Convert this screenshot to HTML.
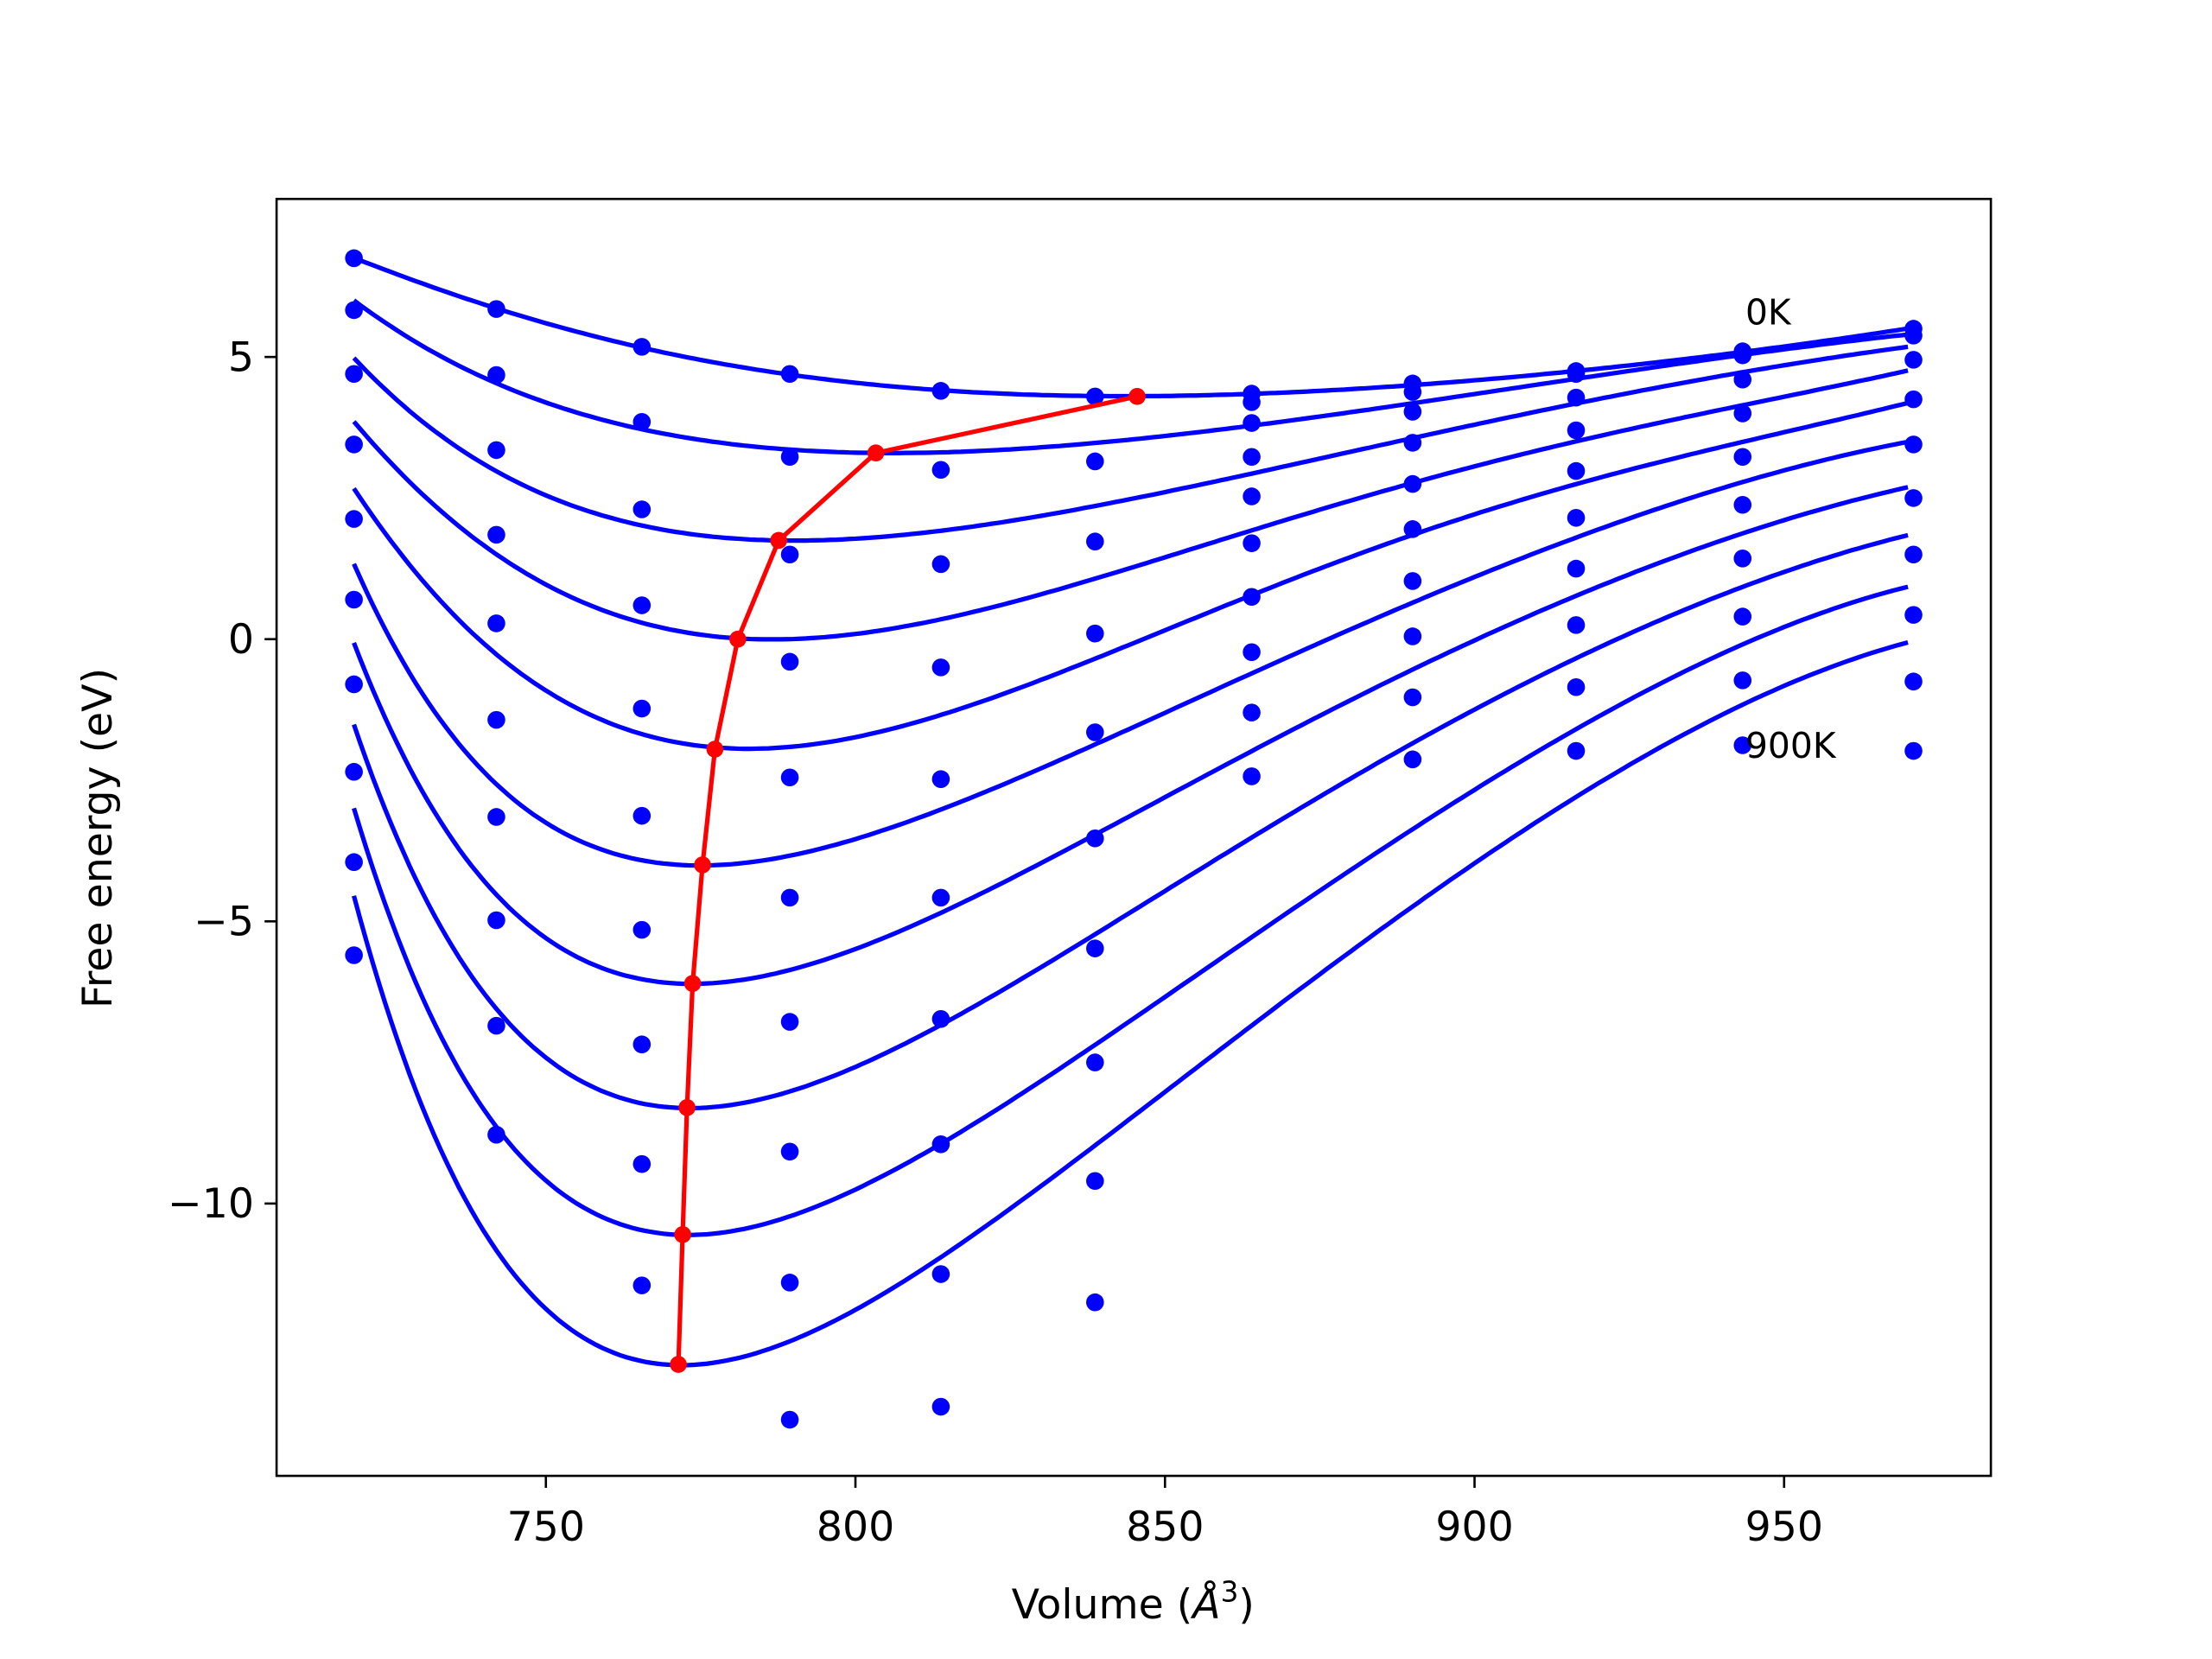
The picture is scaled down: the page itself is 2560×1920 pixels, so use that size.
<!DOCTYPE html>
<html><head><meta charset="utf-8"><style>html,body{margin:0;padding:0;background:#fff}svg{display:block}</style></head>
<body>
<svg id="chart" width="2560" height="1920" viewBox="0 0 1567.7 1175.8" xmlns="http://www.w3.org/2000/svg" font-family="DejaVu Sans, Liberation Sans, sans-serif">
<rect width="1567.7" height="1175.8" fill="#fff"/>
<g id="marks"></g>
<rect x="196" y="141" width="1215" height="905" fill="none" stroke="#000" stroke-width="1.6"/>
<g id="axes"></g>
<text x="803" y="1147" font-size="29" text-anchor="middle">Volume (<tspan font-style="italic">Å</tspan><tspan font-size="20" dy="-12">3</tspan><tspan dy="12">)</tspan></text>
<text transform="translate(79,594) rotate(-90)" font-size="29" text-anchor="middle">Free energy (eV)</text>
<text x="1237" y="230" font-size="25">0K</text>
<text x="1237" y="537" font-size="25">900K</text>
</svg>
<script>
const volumes=[719.0,742.0,765.5,789.4,813.8,838.7,864.0,890.0,916.4,943.3,970.9];
const pts0=[6.75,5.85,5.18,4.7,4.4,4.3,4.35,4.53,4.75,5.1,5.5];
const pts1=[5.83,4.68,3.85,3.23,3.0,3.15,4.2,4.38,4.7,5.03,5.38];
const pts2=[4.7,3.35,2.3,1.5,1.33,1.73,3.83,4.03,4.28,4.6,4.95];
const pts3=[3.45,1.85,0.6,-0.4,-0.5,0.1,3.23,3.48,3.7,4.0,4.25];
const pts4=[2.13,0.28,-1.23,-2.45,-2.48,-1.65,2.53,2.75,2.98,3.23,3.45];
const pts5=[0.7,-1.43,-3.13,-4.58,-4.58,-3.53,1.7,1.95,2.15,2.38,2.5];
const pts6=[-0.8,-3.15,-5.15,-6.78,-6.73,-5.48,0.75,1.03,1.25,1.43,1.5];
const pts7=[-2.35,-4.98,-7.18,-9.08,-8.95,-7.5,-0.23,0.05,0.25,0.4,0.43];
const pts8=[-3.95,-6.85,-9.3,-11.4,-11.25,-9.6,-1.3,-1.03,-0.85,-0.73,-0.75];
const pts9=[-5.6,-8.78,-11.45,-13.83,-13.6,-11.75,-2.43,-2.13,-1.98,-1.88,-1.98];
const points=[pts0,pts1,pts2,pts3,pts4,pts5,pts6,pts7,pts8,pts9];
const fit0=[6.76,5.85,5.17,4.70,4.41,4.30,4.34,4.52,4.77,5.06,5.53];
const fit1=[6.0,4.55,3.69,3.36,3.29,3.43,3.83,4.15,4.63,5.03,5.41];
const fit2=[4.99,2.95,2.03,1.73,1.89,2.31,3.0,3.54,4.19,4.71,5.20];
const fit3=[3.87,1.42,0.51,-0.02,0.36,1.08,1.95,2.75,3.50,4.15,4.78];
const fit4=[2.68,-0.35,-1.30,-1.91,-1.30,-0.29,0.76,1.81,2.75,3.52,4.20];
const fit5=[1.37,-2.71,-3.81,-3.89,-3.15,-1.85,-0.58,0.69,1.81,2.72,3.54];
const fit6=[-0.03,-4.68,-5.84,-5.98,-4.95,-3.4,-1.99,-0.50,0.76,1.84,2.73];
const fit7=[-1.47,-6.74,-8.00,-8.15,-6.95,-5.19,-3.47,-1.84,-0.32,0.87,1.89];
const fit8=[-2.96,-8.80,-10.24,-10.39,-9.0,-7.1,-5.33,-3.36,-1.52,-0.18,0.98];
const fit9=[-4.5,-11.04,-12.55,-12.66,-11.0,-8.9,-6.92,-4.68,-2.71,-1.29,0.01];
const fits=[fit0,fit1,fit2,fit3,fit4,fit5,fit6,fit7,fit8,fit9];
const minV=[845.5,803.3,787.6,781.0,777.3,775.3,773.7,772.8,772.1,771.4];
const minE=[4.3,3.3,1.75,0.0,-1.95,-4.0,-6.1,-8.3,-10.55,-12.85];
const xTicks=[750,800,850,900,950];
const yTicks=[5,0,-5,-10];
const yTickLabels=["5","0","\u22125","\u221210"];

const X0=196,X1=1411,Y0=141,Y1=1046;
const xMin=706.5,xMax=983.4,yMin=-14.825,yMax=7.8;
function sx(v){return X0+(v-xMin)/(xMax-xMin)*(X1-X0);}
function sy(e){return Y1-(e-yMin)/(yMax-yMin)*(Y1-Y0);}
const NS="http://www.w3.org/2000/svg";
const marks=document.getElementById('marks'),axes=document.getElementById('axes');
function mk(tag,attrs,parent){const e=document.createElementNS(NS,tag);for(const k in attrs)e.setAttribute(k,attrs[k]);parent.appendChild(e);return e;}

function polyfit(xs,ys,ws,deg){
  const n=deg+1,A=[],b=[];
  for(let i=0;i<n;i++){A.push(new Array(n).fill(0));b.push(0);}
  xs.forEach((x,k)=>{const p=[];for(let i=0;i<n;i++)p.push(Math.pow(x,i));
    for(let i=0;i<n;i++){b[i]+=ws[k]*p[i]*ys[k];for(let j=0;j<n;j++)A[i][j]+=ws[k]*p[i]*p[j];}});
  for(let i=0;i<n;i++){let mx=i;for(let r=i+1;r<n;r++)if(Math.abs(A[r][i])>Math.abs(A[mx][i]))mx=r;
    [A[i],A[mx]]=[A[mx],A[i]];[b[i],b[mx]]=[b[mx],b[i]];
    for(let r=0;r<n;r++){if(r===i)continue;const f=A[r][i]/A[i][i];for(let c=i;c<n;c++)A[r][c]-=f*A[i][c];b[r]-=f*b[i];}}
  return b.map((v,i)=>v/A[i][i]);
}
const tv=v=>(Math.pow(v/840,-2/3)-1)*10;
fits.forEach((f,ci)=>{
  const xs=[],ys=[],ws=[];
  volumes.forEach((v,i)=>{xs.push(tv(v));ys.push(f[i]);ws.push(1);});
  xs.push(tv(minV[ci]));ys.push(minE[ci]);ws.push(6);
  xs.push(tv(minV[ci]-3));ys.push(minE[ci]+0.01);ws.push(3);
  xs.push(tv(minV[ci]+3));ys.push(minE[ci]+0.01);ws.push(3);
  const c=polyfit(xs,ys,ws,5);
  const fn=v=>{const t=tv(v);let s=0;for(let i=c.length-1;i>=0;i--)s=s*t+c[i];return s;};
  let d='';
  for(let v=volumes[0];v<=volumes[volumes.length-1]+0.01;v+=1){d+=(d?'L':'M')+sx(v).toFixed(1)+','+sy(fn(v)).toFixed(1);}
  const path=mk('path',{d:d,fill:'none',stroke:'#0000ff','stroke-width':3.2},marks);
  
  
});
points.forEach((arr,ci)=>{
  arr.forEach((e,i)=>{
    const c=mk('circle',{cx:sx(volumes[i]),cy:sy(e),r:6.3,fill:'#0000ff'},marks);
    
    
  });
});
{
  let d='';minV.forEach((v,i)=>{d+=(i?'L':'M')+sx(v).toFixed(1)+','+sy(minE[i]).toFixed(1);});
  const p=mk('path',{d:d,fill:'none',stroke:'#ff0000','stroke-width':3.2},marks);
  
  
  minV.forEach((v,i)=>{
    const c=mk('circle',{cx:sx(v),cy:sy(minE[i]),r:6,fill:'#ff0000'},marks);
    
    
  });
}
xTicks.forEach(t=>{
  const x=sx(t);
  const l=mk('line',{x1:x,x2:x,y1:Y1,y2:Y1+8.5,stroke:'#000','stroke-width':1.6},axes);
  
  
  const tx=mk('text',{x:x,y:Y1+46,'font-size':29,'text-anchor':'middle'},axes);
  tx.textContent=t;
  
  
});
yTicks.forEach((t,i)=>{
  const y=sy(t);
  const l=mk('line',{x1:X0-8.5,x2:X0,y1:y,y2:y,stroke:'#000','stroke-width':1.6},axes);
  
  
  const tx=mk('text',{x:X0-16,y:y+10,'font-size':29,'text-anchor':'end'},axes);
  tx.textContent=yTickLabels[i];
  
  
});
</script>
</body></html>
